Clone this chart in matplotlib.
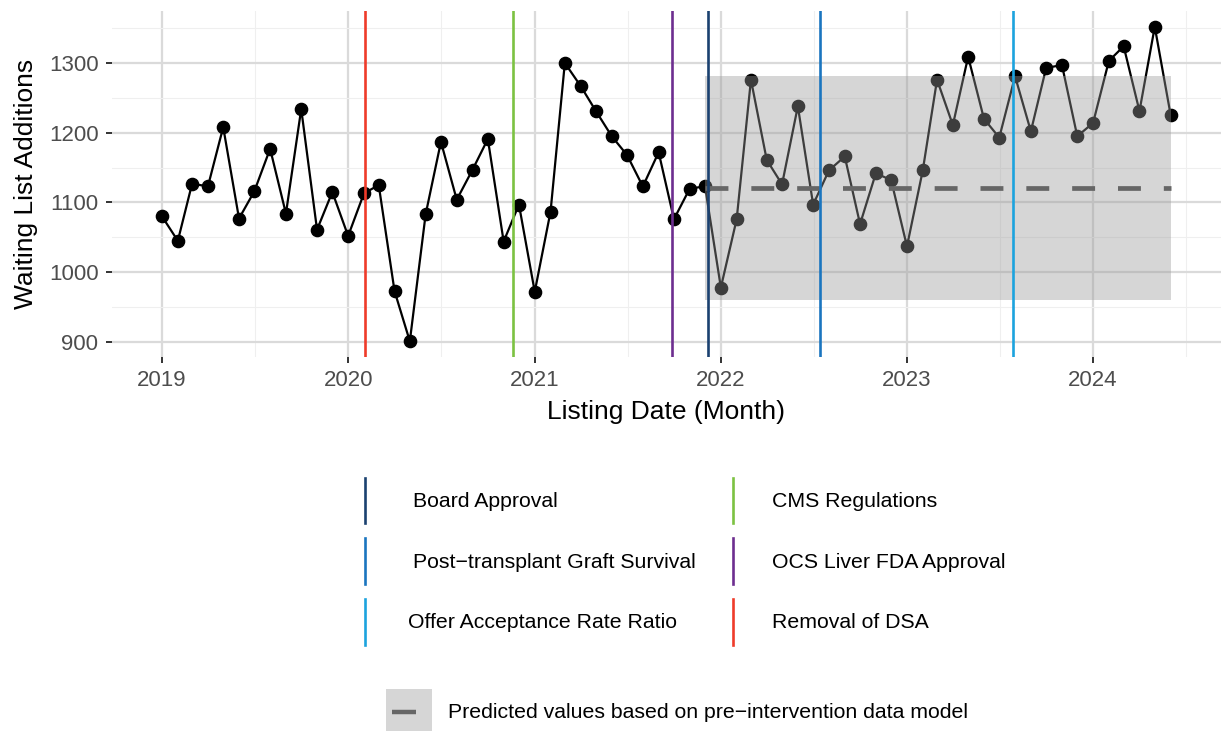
import numpy as np
import pandas as pd
import matplotlib
matplotlib.use("Agg")
import matplotlib.pyplot as plt
import matplotlib.dates as mdates
from matplotlib.lines import Line2D
from matplotlib.patches import Rectangle

plt.rcParams['font.family'] = ['Liberation Sans', 'DejaVu Sans']

# monthly waiting list additions, 2019-01 .. 2024-06
months = pd.date_range('2019-01-01', '2024-06-01', freq='MS')
additions = [1080, 1045, 1127, 1123, 1208, 1077, 1116, 1177, 1084, 1234, 1061, 1115,
             1052, 1113, 1125, 973, 901, 1083, 1187, 1104, 1147, 1191, 1044, 1097,
             972, 1087, 1300, 1267, 1231, 1195, 1168, 1123, 1172, 1076, 1120, 1123,
             978, 1076, 1276, 1161, 1126, 1238, 1097, 1146, 1166, 1069, 1142, 1132,
             1037, 1146, 1276, 1211, 1309, 1220, 1193, 1281, 1202, 1293, 1297, 1195,
             1214, 1303, 1324, 1231, 1352, 1226]

# prediction from pre-intervention model
pred_start = pd.Timestamp('2021-12-01')
pred_end = pd.Timestamp('2024-06-01')
pred_fit = 1121
pred_lo = 960
pred_hi = 1281

# interventions
events = ['Board Approval', 'CMS Regulations', 'Post\u2212transplant Graft Survival',
          'OCS Liver FDA Approval', 'Offer Acceptance Rate Ratio', 'Removal of DSA']
event_dates = pd.to_datetime(['2021-12-06', '2020-11-20', '2022-07-14',
                              '2021-09-28', '2023-07-27', '2020-02-04'])
event_colors = ['#1b4170', '#7cc242', '#1a75bf', '#6d2e8f', '#1ca3de', '#ef3b2a']

W, H = 1225, 731
fig = plt.figure(figsize=(W / 100, H / 100), dpi=100)


def fx(px):
    return px / W


def fy(py):
    return 1 - py / H


ax = fig.add_axes([fx(111.6), fy(357), fx(1221) - fx(111.6), fy(11) - fy(357)])

x = mdates.date2num(months)
ax.plot(x, additions, color='black', lw=1.6, zorder=3)
ax.plot(x, additions, 'o', color='black', ms=8.8, zorder=3)

xs = mdates.date2num([pred_start, pred_end])
ax.fill_between(xs, [pred_lo, pred_lo], [pred_hi, pred_hi], color='#999999',
                alpha=0.4, lw=0, zorder=4)
dlw = 3.4
ax.plot(xs, [pred_fit, pred_fit], color='#666666', lw=dlw, zorder=5,
        linestyle=(0, (16.5 / dlw, 16.5 / dlw)), solid_capstyle='butt')

for d, c in zip(event_dates, event_colors):
    ax.axvline(mdates.date2num(d), color=c, lw=1.9, zorder=6)

years = pd.to_datetime([f'{y}-01-01' for y in range(2019, 2025)])
ax.set_xticks(mdates.date2num(years))
ax.set_xticklabels([str(y) for y in range(2019, 2025)])
ax.set_xticks(mdates.date2num(pd.to_datetime([f'{y}-07-02' for y in range(2019, 2025)])), minor=True)
ax.set_yticks([900, 1000, 1100, 1200, 1300])
ax.set_yticks([950, 1050, 1150, 1250, 1350], minor=True)

# ggplot style 5% expansion
x0, x1 = x[0], x[-1]
ax.set_xlim(x0 - 0.05 * (x1 - x0), x1 + 0.05 * (x1 - x0))
y0, y1 = min(additions), max(additions)
ax.set_ylim(y0 - 0.05 * (y1 - y0), y1 + 0.05 * (y1 - y0))

ax.grid(which='major', color='#dadada', lw=1.6, zorder=0)
ax.grid(which='minor', color='#efefef', lw=0.8, zorder=0)
ax.set_axisbelow(True)
for s in ax.spines.values():
    s.set_visible(False)
ax.tick_params(which='major', length=4.5, width=1.4, color='#333333',
               labelsize=16, labelcolor='#4d4d4d', pad=5)
ax.tick_params(which='minor', length=0)

ax.set_xlabel('Listing Date (Month)', fontsize=19, labelpad=6)
ax.set_ylabel('Waiting List Additions', fontsize=19, labelpad=8)

# legend for intervention lines
key_x = [365, 733]
text_x = [[413, 413, 408], [772, 772, 772]]
row_y = [(478, 523), (538, 584), (599, 645)]
for col in range(2):
    for row in range(3):
        i = row * 2 + col
        ya, yb = row_y[row]
        fig.add_artist(Line2D([fx(key_x[col])] * 2, [fy(ya), fy(yb)],
                              color=event_colors[i], lw=1.9, transform=fig.transFigure))
        fig.text(fx(text_x[col][row]), fy((ya + yb) / 2 + 1), events[i], fontsize=15.3,
                 ha='left', va='center')

# legend for prediction
fig.add_artist(Rectangle((fx(386), fy(731)), fx(432) - fx(386), fy(689) - fy(731),
                         facecolor='#999999', alpha=0.4, lw=0, transform=fig.transFigure))
fig.add_artist(Line2D([fx(392), fx(416)], [fy(712), fy(712)], color='#666666', lw=3.2,
                      solid_capstyle='butt', transform=fig.transFigure))
fig.text(fx(448), fy(713), 'Predicted values based on pre\u2212intervention data model',
         fontsize=15.3, ha='left', va='center')

fig.savefig('out.png', dpi=100)
